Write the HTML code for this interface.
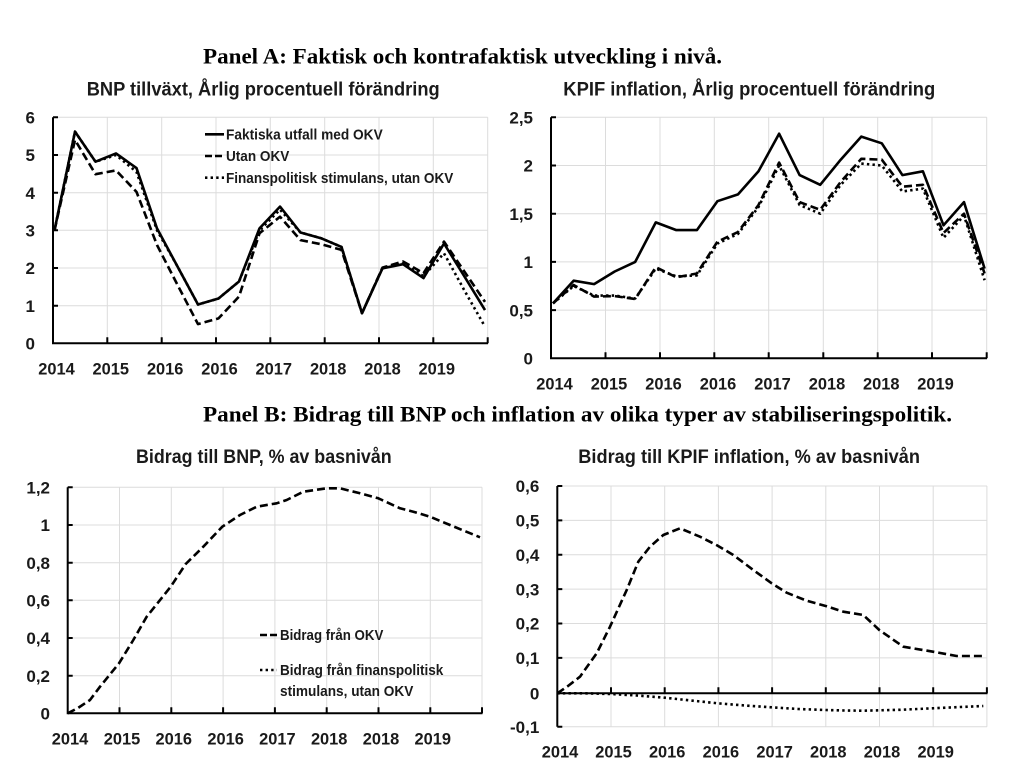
<!DOCTYPE html>
<html>
<head>
<meta charset="utf-8">
<style>
  html,body{margin:0;padding:0;background:#fff;}
  svg{display:block;}
  .tick{font-family:"Liberation Sans",sans-serif;font-weight:bold;font-size:17px;fill:#1a1a1a;}
  .ttl{font-family:"Liberation Sans",sans-serif;font-weight:bold;font-size:19px;fill:#1a1a1a;}
  .pnl{font-family:"Liberation Serif",serif;font-weight:bold;font-size:22px;fill:#000;}
  .leg{font-family:"Liberation Sans",sans-serif;font-weight:bold;font-size:15px;fill:#1a1a1a;}
  .grid{stroke:#dcdcdc;stroke-width:1;fill:none;}
  .axis{stroke:#000;stroke-width:2;fill:none;}
  .s{stroke:#000;stroke-width:2.6;fill:none;stroke-linejoin:round;}
  .d{stroke:#000;stroke-width:2.6;fill:none;stroke-dasharray:8 4;stroke-linejoin:round;}
  .o{stroke:#000;stroke-width:2.6;fill:none;stroke-dasharray:2.4 3.2;stroke-linejoin:round;}
</style>
</head>
<body>
<svg width="1024" height="760" viewBox="0 0 1024 760" xmlns="http://www.w3.org/2000/svg">
<rect width="1024" height="760" fill="#fff"/>

<!-- Panel titles -->
<text class="pnl" x="203" y="63.5" textLength="519" lengthAdjust="spacingAndGlyphs">Panel A: Faktisk och kontrafaktisk utveckling i nivå.</text>
<text class="pnl" x="203" y="421.5" textLength="749" lengthAdjust="spacingAndGlyphs">Panel B: Bidrag till BNP och inflation av olika typer av stabiliseringspolitik.</text>

<!-- ================= TOP LEFT ================= -->
<text class="ttl" x="86.7" y="95.5" textLength="353" lengthAdjust="spacingAndGlyphs">BNP tillväxt, Årlig procentuell förändring</text>
<g class="grid">
  <line x1="53" y1="117.3" x2="487.7" y2="117.3"/>
  <line x1="53" y1="155" x2="487.7" y2="155"/>
  <line x1="53" y1="192.7" x2="487.7" y2="192.7"/>
  <line x1="53" y1="230.3" x2="487.7" y2="230.3"/>
  <line x1="53" y1="268" x2="487.7" y2="268"/>
  <line x1="53" y1="305.7" x2="487.7" y2="305.7"/>
  <line x1="107.3" y1="117.3" x2="107.3" y2="343.3"/>
  <line x1="161.7" y1="117.3" x2="161.7" y2="343.3"/>
  <line x1="216" y1="117.3" x2="216" y2="343.3"/>
  <line x1="270.3" y1="117.3" x2="270.3" y2="343.3"/>
  <line x1="324.7" y1="117.3" x2="324.7" y2="343.3"/>
  <line x1="379" y1="117.3" x2="379" y2="343.3"/>
  <line x1="433.3" y1="117.3" x2="433.3" y2="343.3"/>
  <line x1="487.7" y1="117.3" x2="487.7" y2="343.3"/>
</g>
<path class="axis" d="M53 117.3 V343.3 H488 M53 117.3 h5 M53 155 h5 M53 192.7 h5 M53 230.3 h5 M53 268 h5 M53 305.7 h5 M107.3 343.3 v-6 M161.7 343.3 v-6 M216 343.3 v-6 M270.3 343.3 v-6 M324.7 343.3 v-6 M379 343.3 v-6 M433.3 343.3 v-6 M487.7 343.3 v-6"/>
<g class="tick" text-anchor="end">
  <text x="35" y="123.5">6</text>
  <text x="35" y="161.2">5</text>
  <text x="35" y="198.9">4</text>
  <text x="35" y="236.5">3</text>
  <text x="35" y="274.2">2</text>
  <text x="35" y="311.9">1</text>
  <text x="35" y="349.5">0</text>
</g>
<g class="tick" text-anchor="middle">
  <text x="56.5" y="374.5" textLength="36.5" lengthAdjust="spacingAndGlyphs">2014</text>
  <text x="110.8" y="374.5" textLength="36.5" lengthAdjust="spacingAndGlyphs">2015</text>
  <text x="165.2" y="374.5" textLength="36.5" lengthAdjust="spacingAndGlyphs">2016</text>
  <text x="219.5" y="374.5" textLength="36.5" lengthAdjust="spacingAndGlyphs">2016</text>
  <text x="273.8" y="374.5" textLength="36.5" lengthAdjust="spacingAndGlyphs">2017</text>
  <text x="328.2" y="374.5" textLength="36.5" lengthAdjust="spacingAndGlyphs">2018</text>
  <text x="382.5" y="374.5" textLength="36.5" lengthAdjust="spacingAndGlyphs">2018</text>
  <text x="436.8" y="374.5" textLength="36.5" lengthAdjust="spacingAndGlyphs">2019</text>
</g>
<polyline class="o" points="54.5,230.3 75,131.6 95.5,161.7 116,155 136.5,171.9 157,230.3 177.5,266.5 198,304.5 218.5,298.5 239,281.5 259.5,230.3 280,209.6 300.5,232.5 321,238.2 341.5,246.9 362,313.2 382.5,268 403,263.4 423.5,276.2 444,253.3 464.5,290.6 485,326.7"/>
<polyline class="d" points="54.5,230.3 75,139.9 95.5,174.2 116,170.4 136.5,191.9 157,245 177.5,284.9 198,324.1 218.5,318.4 239,296.6 259.5,233.3 280,216.7 300.5,240.1 321,244.2 341.5,249.9 362,313.2 382.5,267.6 403,261.5 423.5,273.2 444,241.6 464.5,271.7 485,301.9"/>
<polyline class="s" points="54.5,230.3 75,131.6 95.5,161.7 116,153.4 136.5,168.1 157,228.4 177.5,266.5 198,304.5 218.5,298.5 239,281.5 259.5,228.4 280,206.6 300.5,232.5 321,238.2 341.5,246.9 362,313.2 382.5,268.3 403,264.2 423.5,278.1 444,243.5 464.5,276.6 485,310.1"/>
<!-- legend -->
<line class="s" x1="205" y1="134.3" x2="224" y2="134.3"/>
<line class="d" x1="205" y1="156" x2="224" y2="156" style="stroke-dasharray:7 3"/>
<line class="o" x1="205" y1="177.7" x2="224" y2="177.7"/>
<text class="leg" x="226" y="139.5" textLength="156.7" lengthAdjust="spacingAndGlyphs">Faktiska utfall med OKV</text>
<text class="leg" x="226" y="161.2" textLength="63.3" lengthAdjust="spacingAndGlyphs">Utan OKV</text>
<text class="leg" x="226" y="182.9" textLength="227.3" lengthAdjust="spacingAndGlyphs">Finanspolitisk stimulans, utan OKV</text>

<!-- ================= TOP RIGHT ================= -->
<text class="ttl" x="563.3" y="95.5" textLength="372" lengthAdjust="spacingAndGlyphs">KPIF inflation, Årlig procentuell förändring</text>
<g class="grid">
  <line x1="551" y1="117.3" x2="986.7" y2="117.3"/>
  <line x1="551" y1="165.5" x2="986.7" y2="165.5"/>
  <line x1="551" y1="213.7" x2="986.7" y2="213.7"/>
  <line x1="551" y1="261.9" x2="986.7" y2="261.9"/>
  <line x1="551" y1="310.1" x2="986.7" y2="310.1"/>
  <line x1="605.5" y1="117.3" x2="605.5" y2="358.3"/>
  <line x1="660" y1="117.3" x2="660" y2="358.3"/>
  <line x1="714.3" y1="117.3" x2="714.3" y2="358.3"/>
  <line x1="768.7" y1="117.3" x2="768.7" y2="358.3"/>
  <line x1="823.3" y1="117.3" x2="823.3" y2="358.3"/>
  <line x1="877.7" y1="117.3" x2="877.7" y2="358.3"/>
  <line x1="932" y1="117.3" x2="932" y2="358.3"/>
  <line x1="986.7" y1="117.3" x2="986.7" y2="358.3"/>
</g>
<path class="axis" d="M551 117.3 V358.3 H987 M551 117.3 h5 M551 165.5 h5 M551 213.7 h5 M551 261.9 h5 M551 310.1 h5 M605.5 358.3 v-6 M660 358.3 v-6 M714.3 358.3 v-6 M768.7 358.3 v-6 M823.3 358.3 v-6 M877.7 358.3 v-6 M932 358.3 v-6 M986.7 358.3 v-6"/>
<g class="tick" text-anchor="end">
  <text x="533" y="123.5">2,5</text>
  <text x="533" y="171.7">2</text>
  <text x="533" y="219.9">1,5</text>
  <text x="533" y="268.1">1</text>
  <text x="533" y="316.3">0,5</text>
  <text x="533" y="364.5">0</text>
</g>
<g class="tick" text-anchor="middle">
  <text x="554.5" y="389.5" textLength="36.5" lengthAdjust="spacingAndGlyphs">2014</text>
  <text x="609" y="389.5" textLength="36.5" lengthAdjust="spacingAndGlyphs">2015</text>
  <text x="663.5" y="389.5" textLength="36.5" lengthAdjust="spacingAndGlyphs">2016</text>
  <text x="718" y="389.5" textLength="36.5" lengthAdjust="spacingAndGlyphs">2016</text>
  <text x="772.5" y="389.5" textLength="36.5" lengthAdjust="spacingAndGlyphs">2017</text>
  <text x="827" y="389.5" textLength="36.5" lengthAdjust="spacingAndGlyphs">2018</text>
  <text x="881.3" y="389.5" textLength="36.5" lengthAdjust="spacingAndGlyphs">2018</text>
  <text x="935.5" y="389.5" textLength="36.5" lengthAdjust="spacingAndGlyphs">2019</text>
</g>
<polyline class="o" points="553,303.4 573.6,286 594.1,295.6 614.7,295.6 635.2,298.5 655.8,268.6 676.3,276.4 696.9,275.4 717.4,243.6 738,233.9 758.5,207 779.1,165.5 799.6,205 820.2,213.7 840.7,184.8 861.3,163.6 881.8,165.5 902.4,191.5 922.9,188.6 943.5,237.8 964,215.6 984.6,280.2"/>
<polyline class="d" points="553,303.4 573.6,285 594.1,296.6 614.7,296.1 635.2,299 655.8,267.2 676.3,277.3 696.9,273.5 717.4,241.7 738,232 758.5,205 779.1,162.6 799.6,202.1 820.2,209.8 840.7,181.9 861.3,158.8 881.8,159.7 902.4,186.7 922.9,184.8 943.5,233 964,213.7 984.6,273.5"/>
<polyline class="s" points="553,303.4 573.6,280.7 594.1,284.1 614.7,271.5 635.2,261.9 655.8,222.4 676.3,230.1 696.9,230.1 717.4,201.2 738,194.4 758.5,171.3 779.1,133.7 799.6,175.1 820.2,184.8 840.7,159.7 861.3,136.6 881.8,143.3 902.4,175.1 922.9,171.3 943.5,225.3 964,202.1 984.6,268.6"/>

<!-- ================= BOTTOM LEFT ================= -->
<text class="ttl" x="136" y="463" textLength="255.7" lengthAdjust="spacingAndGlyphs">Bidrag till BNP, % av basnivån</text>
<g class="grid">
  <line x1="67.7" y1="487.3" x2="482" y2="487.3"/>
  <line x1="67.7" y1="525" x2="482" y2="525"/>
  <line x1="67.7" y1="562.7" x2="482" y2="562.7"/>
  <line x1="67.7" y1="600.3" x2="482" y2="600.3"/>
  <line x1="67.7" y1="638" x2="482" y2="638"/>
  <line x1="67.7" y1="675.7" x2="482" y2="675.7"/>
  <line x1="119.5" y1="487.3" x2="119.5" y2="713.3"/>
  <line x1="171.3" y1="487.3" x2="171.3" y2="713.3"/>
  <line x1="223.1" y1="487.3" x2="223.1" y2="713.3"/>
  <line x1="274.9" y1="487.3" x2="274.9" y2="713.3"/>
  <line x1="326.7" y1="487.3" x2="326.7" y2="713.3"/>
  <line x1="378.5" y1="487.3" x2="378.5" y2="713.3"/>
  <line x1="430.3" y1="487.3" x2="430.3" y2="713.3"/>
  <line x1="482" y1="487.3" x2="482" y2="713.3"/>
</g>
<path class="axis" d="M67.7 487.3 V713.3 H482.5 M67.7 487.3 h5 M67.7 525 h5 M67.7 562.7 h5 M67.7 600.3 h5 M67.7 638 h5 M67.7 675.7 h5 M119.5 713.3 v-6 M171.3 713.3 v-6 M223.1 713.3 v-6 M274.9 713.3 v-6 M326.7 713.3 v-6 M378.5 713.3 v-6 M430.3 713.3 v-6 M482 713.3 v-6"/>
<g class="tick" text-anchor="end">
  <text x="50" y="493.5">1,2</text>
  <text x="50" y="531.2">1</text>
  <text x="50" y="568.9">0,8</text>
  <text x="50" y="606.5">0,6</text>
  <text x="50" y="644.2">0,4</text>
  <text x="50" y="681.9">0,2</text>
  <text x="50" y="719.5">0</text>
</g>
<g class="tick" text-anchor="middle">
  <text x="70" y="744.5" textLength="36.5" lengthAdjust="spacingAndGlyphs">2014</text>
  <text x="122" y="744.5" textLength="36.5" lengthAdjust="spacingAndGlyphs">2015</text>
  <text x="173.8" y="744.5" textLength="36.5" lengthAdjust="spacingAndGlyphs">2016</text>
  <text x="225.6" y="744.5" textLength="36.5" lengthAdjust="spacingAndGlyphs">2016</text>
  <text x="277.4" y="744.5" textLength="36.5" lengthAdjust="spacingAndGlyphs">2017</text>
  <text x="329.2" y="744.5" textLength="36.5" lengthAdjust="spacingAndGlyphs">2018</text>
  <text x="381" y="744.5" textLength="36.5" lengthAdjust="spacingAndGlyphs">2018</text>
  <text x="432.8" y="744.5" textLength="36.5" lengthAdjust="spacingAndGlyphs">2019</text>
</g>
<polyline class="d" points="67.7,713.3 78,708 90,700 100,686.7 119,663.3 133.3,640 146.7,616.7 170.7,586.7 185.7,564 203.3,546.7 222.3,526.7 240,515 256.7,506.7 276.7,503.3 286.7,500 303.3,491.7 326.7,488.3 340,488.3 360,493.3 378.3,498.3 400,508.3 413.3,511.7 430,516.7 450,525 480,537.3"/>
<!-- legend -->
<line class="d" x1="260" y1="635" x2="277" y2="635" style="stroke-dasharray:7 3"/>
<line class="o" x1="260" y1="670" x2="277" y2="670"/>
<text class="leg" x="280" y="640.2" textLength="103.3" lengthAdjust="spacingAndGlyphs">Bidrag från OKV</text>
<text class="leg" x="280" y="675.2" textLength="163.3" lengthAdjust="spacingAndGlyphs">Bidrag från finanspolitisk</text>
<text class="leg" x="280" y="696.2" textLength="133.3" lengthAdjust="spacingAndGlyphs">stimulans, utan OKV</text>

<!-- ================= BOTTOM RIGHT ================= -->
<text class="ttl" x="578.3" y="463" textLength="341.7" lengthAdjust="spacingAndGlyphs">Bidrag till KPIF inflation, % av basnivån</text>
<g class="grid">
  <line x1="557.3" y1="486" x2="987" y2="486"/>
  <line x1="557.3" y1="520.4" x2="987" y2="520.4"/>
  <line x1="557.3" y1="554.8" x2="987" y2="554.8"/>
  <line x1="557.3" y1="589.1" x2="987" y2="589.1"/>
  <line x1="557.3" y1="623.5" x2="987" y2="623.5"/>
  <line x1="557.3" y1="657.9" x2="987" y2="657.9"/>
  <line x1="557.3" y1="726.7" x2="987" y2="726.7"/>
  <line x1="611" y1="486" x2="611" y2="726.7"/>
  <line x1="664.7" y1="486" x2="664.7" y2="726.7"/>
  <line x1="718.4" y1="486" x2="718.4" y2="726.7"/>
  <line x1="772.1" y1="486" x2="772.1" y2="726.7"/>
  <line x1="825.8" y1="486" x2="825.8" y2="726.7"/>
  <line x1="879.5" y1="486" x2="879.5" y2="726.7"/>
  <line x1="933.2" y1="486" x2="933.2" y2="726.7"/>
  <line x1="986.9" y1="486" x2="986.9" y2="726.7"/>
</g>
<path class="axis" d="M557.3 486 V726.7 M557.3 486 h5 M557.3 520.4 h5 M557.3 554.8 h5 M557.3 589.1 h5 M557.3 623.5 h5 M557.3 657.9 h5 M557.3 726.7 h5 M557.3 693.3 H987.5 M611 693.3 v-6 M664.7 693.3 v-6 M718.4 693.3 v-6 M772.1 693.3 v-6 M825.8 693.3 v-6 M879.5 693.3 v-6 M933.2 693.3 v-6 M986.9 693.3 v-6"/>
<g class="tick" text-anchor="end">
  <text x="539.3" y="492.2">0,6</text>
  <text x="539.3" y="526.6">0,5</text>
  <text x="539.3" y="561">0,4</text>
  <text x="539.3" y="595.3">0,3</text>
  <text x="539.3" y="629.7">0,2</text>
  <text x="539.3" y="664.1">0,1</text>
  <text x="539.3" y="699.5">0</text>
  <text x="539.3" y="732.9">-0,1</text>
</g>
<g class="tick" text-anchor="middle">
  <text x="560" y="757.5" textLength="36.5" lengthAdjust="spacingAndGlyphs">2014</text>
  <text x="613.5" y="757.5" textLength="36.5" lengthAdjust="spacingAndGlyphs">2015</text>
  <text x="667.2" y="757.5" textLength="36.5" lengthAdjust="spacingAndGlyphs">2016</text>
  <text x="720.9" y="757.5" textLength="36.5" lengthAdjust="spacingAndGlyphs">2016</text>
  <text x="774.6" y="757.5" textLength="36.5" lengthAdjust="spacingAndGlyphs">2017</text>
  <text x="828.3" y="757.5" textLength="36.5" lengthAdjust="spacingAndGlyphs">2018</text>
  <text x="882" y="757.5" textLength="36.5" lengthAdjust="spacingAndGlyphs">2018</text>
  <text x="935.7" y="757.5" textLength="36.5" lengthAdjust="spacingAndGlyphs">2019</text>
</g>
<polyline class="o" points="557.3,693.3 584,693.3 611,694 637,695.5 664.7,697.7 691,700.5 717.7,703.3 745,705.5 771.7,707.3 798,709 825.7,710 845,710.5 863.3,710.7 900,709.8 933,708.3 960,707 983.3,706"/>
<polyline class="d" points="557.3,693.3 568,686 580,676.7 596.7,653.3 610,626.7 626.7,590 638.3,561.7 650,546.7 663.3,535 680,528.3 700,536.7 717.7,545.7 733.3,555 753.3,570 771.7,583.3 786.7,592.7 806.7,600.7 825.7,606 843.3,611.7 863.3,615 879.3,630 903.3,646.7 933,651.7 956.7,656 983.3,656"/>
</svg>
</body>
</html>
